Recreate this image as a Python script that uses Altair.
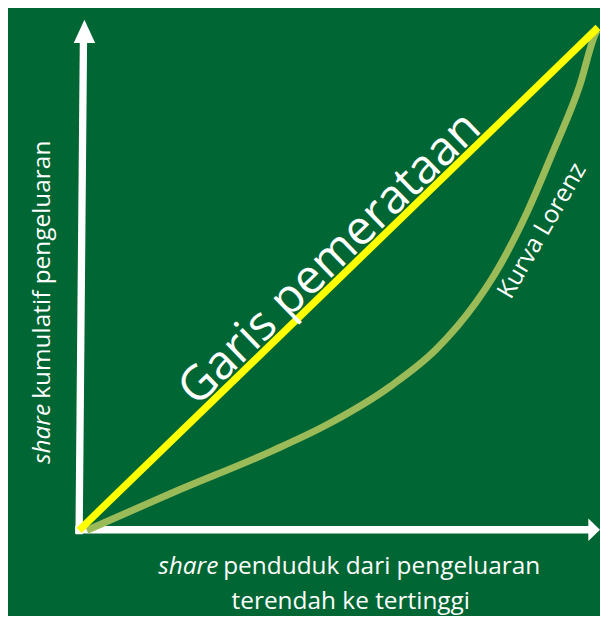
import altair as alt
import pandas as pd

# ---- data (shares, 0..1) ----
LORENZ_X = [0.015, 0.182, 0.370, 0.4765, 0.6004, 0.6886, 0.7636, 0.8011, 0.8630, 0.9137, 0.9644, 0.9944, 0.998]
LORENZ_Y = [0.0, 0.0756, 0.1570, 0.2093, 0.2868, 0.3605, 0.4516, 0.5097, 0.6318, 0.7539, 0.8837, 0.9864, 0.994]
EQUAL_X = [0.0, 1.0]
EQUAL_Y = [0.0, 1.0]

YAXIS_X = [0.0, 0.0084]
YAXIS_Y = [-0.0078, 0.9729]
XAXIS_X = [-0.0075, 0.9887]
XAXIS_Y = [0.001, 0.001]
YARROW = [0.0103, 0.9922]
XARROW = [0.9925, 0.001]

LABEL_EQUAL = "Garis pemerataan"
LABEL_LORENZ = "Kurva Lorenz"
YTITLE_IT = "share"
YTITLE_REST = "kumulatif pengeluaran"
XTITLE_IT = "share"
XTITLE_REST = "penduduk dari pengeluaran"
XTITLE_2 = "terendah ke tertinggi"

BG = "#006633"
LORENZ_C = "#9BBB59"
EQUAL_C = "#FFFF00"
FONT = "Open Sans"

XDOM = [-73 / 533, 535 / 533]
YDOM = [-88 / 516, 536 / 516]

X = lambda: alt.X("x:Q", scale=alt.Scale(domain=XDOM, nice=False, zero=False), axis=None)
Y = lambda: alt.Y("y:Q", scale=alt.Scale(domain=YDOM, nice=False, zero=False), axis=None)


def line_df(xs, ys):
    return pd.DataFrame({"x": xs, "y": ys, "o": list(range(len(xs)))})


yaxis = alt.Chart(line_df(YAXIS_X, YAXIS_Y)).mark_line(
    color="white", strokeWidth=7.3, strokeCap="butt").encode(x=X(), y=Y(), order="o:Q")
xaxis = alt.Chart(line_df(XAXIS_X, XAXIS_Y)).mark_line(
    color="white", strokeWidth=7.3, strokeCap="butt").encode(x=X(), y=Y(), order="o:Q")
yarrow = alt.Chart(pd.DataFrame({"x": [YARROW[0]], "y": [YARROW[1]]})).mark_point(
    shape="M0,-1L0.917,1L-0.917,1Z", filled=True, size=546, color="white",
    opacity=1, strokeWidth=0).encode(x=X(), y=Y())
xarrow = alt.Chart(pd.DataFrame({"x": [XARROW[0]], "y": [XARROW[1]]})).mark_point(
    shape="M0.52,0L-0.52,-1L-0.52,1Z", filled=True, size=502, color="white",
    opacity=1, strokeWidth=0).encode(x=X(), y=Y())

lorenz = alt.Chart(line_df(LORENZ_X, LORENZ_Y)).mark_line(
    color=LORENZ_C, strokeWidth=7, interpolate="monotone", strokeCap="butt").encode(
    x=X(), y=Y(), order="o:Q")
equal = alt.Chart(line_df(EQUAL_X, EQUAL_Y)).mark_line(
    color=EQUAL_C, strokeWidth=7.3, strokeCap="butt").encode(x=X(), y=Y(), order="o:Q")

def text_layer(label, x, y, size, angle=0, align="center", baseline="alphabetic", style="normal"):
    return alt.Chart(pd.DataFrame({"x": [x], "y": [y], "t": [label]})).mark_text(
        font=FONT, fontSize=size, angle=angle, align=align, baseline=baseline,
        fontStyle=style, color="white").encode(x=X(), y=Y(), text="t:N")

t_equal = text_layer(LABEL_EQUAL, 0.5028, 0.5192, 47.5, angle=316)
t_lorenz = text_layer(LABEL_LORENZ, 0.8931, 0.5950, 24.8, angle=300, baseline="middle")
t_y1 = text_layer(YTITLE_IT, -0.0563, 0.1318, 24.4, angle=270, align="left", style="italic")
t_y2 = text_layer(YTITLE_REST, -0.0563, 0.2616, 24.4, angle=270, align="left")
t_x1 = text_layer(XTITLE_IT, 0.2683, -0.0872, 24.4, align="right", style="italic")
t_x2 = text_layer(XTITLE_REST, 0.2777, -0.0872, 24.4, align="left")
t_x3 = text_layer(XTITLE_2, 0.5235, -0.1570, 24.4)

chart = alt.layer(
    yaxis, xaxis, yarrow, xarrow, lorenz, equal,
    t_equal, t_lorenz, t_y1, t_y2, t_x1, t_x2, t_x3,
).properties(
    width=592, height=608, background=BG, padding=0,
    autosize=alt.AutoSizeParams(type="none"),
).configure_view(strokeWidth=0)

chart.save("out.html", embed_options={"renderer": "svg", "actions": False})
